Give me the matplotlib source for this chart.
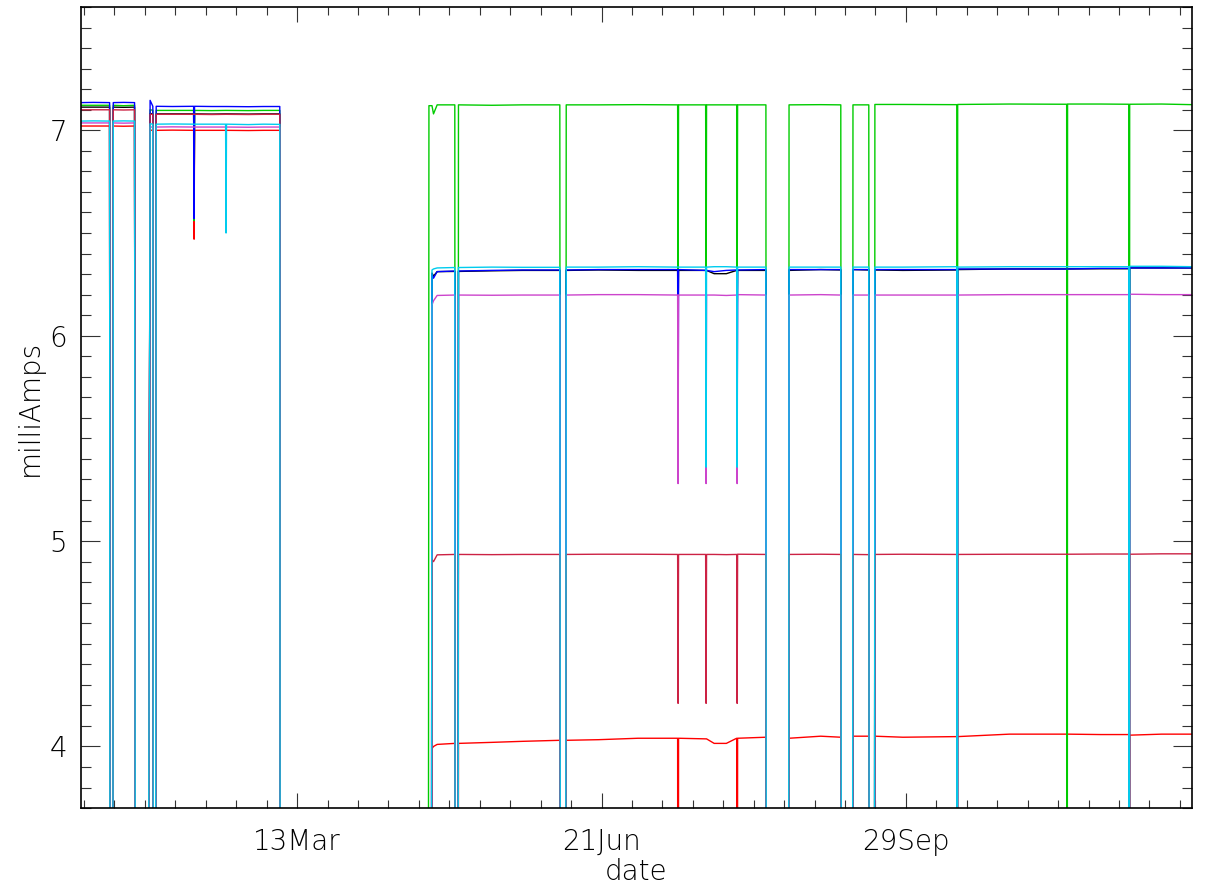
import numpy as np
import matplotlib
matplotlib.use("Agg")
import matplotlib.pyplot as plt
from matplotlib.ticker import MultipleLocator, FixedLocator, FixedFormatter

# day of year (0 = 1 Jan); a reading of 0 means no signal (drawn off the bottom)
day = [0.0, 4.0, 9.4, 9.6, 10.4, 10.6, 14.0, 17.6, 18.0, 21.8,
       22.7, 23.6, 23.8, 24.4, 24.7, 30.0, 37.0, 37.15, 37.3, 43.0,
       47.5, 47.65, 47.8, 55.0, 60.0, 65.3, 65.5,
       114.0, 114.3, 115.0, 115.3, 115.8, 117.0, 122.8, 123.0, 123.8,
       124.0, 135.0, 145.0, 157.3, 157.6, 159.1, 159.4, 170.0, 183.0, 196.0,
       196.15, 196.3, 205.2, 205.35, 205.5, 208.0, 212.0, 215.4, 215.55, 215.7,
       225.0, 225.2, 232.4, 232.6, 243.0, 249.6, 249.9, 253.4, 253.6, 258.8,
       259.0, 260.6, 260.8, 270.0, 287.7, 287.85, 288.0, 305.0, 323.8, 323.95,
       324.1, 335.0, 344.2, 344.35, 344.5, 355.0, 365.0]

green = [7.122, 7.122, 7.122, 0, 0, 7.122, 7.120, 7.122, 0, 0,
         7.100, 7.098, 0, 0, 7.097, 7.097, 7.097, 6.56, 7.097, 7.096,
         7.097, 7.097, 7.097, 7.096, 7.097, 7.097, 0,
         0, 7.12, 7.12, 7.12, 7.08, 7.124, 7.124, 0, 0,
         7.124, 7.122, 7.124, 7.124, 0, 0, 7.124, 7.124, 7.125, 7.124,
         6.06, 7.124, 7.124, 6.06, 7.124, 7.124, 7.124, 7.124, 6.06, 7.124,
         7.124, 0, 0, 7.124, 7.125, 7.124, 0, 0, 7.124, 7.124,
         0, 0, 7.126, 7.126, 7.125, 0, 7.126, 7.128, 7.127, 0,
         7.128, 7.128, 7.127, 0, 7.127, 7.128, 7.125]

blue = [7.135, 7.136, 7.135, 0, 0, 7.135, 7.136, 7.135, 0, 0,
        7.146, 7.117, 0, 0, 7.117, 7.116, 7.117, 6.57, 7.117, 7.116,
        7.116, 7.116, 7.116, 7.115, 7.116, 7.116, 0,
        0, 0, 0, 6.300, 6.280, 6.312, 6.315, 0, 0,
        6.315, 6.318, 6.320, 6.320, 0, 0, 6.320, 6.322, 6.322, 6.322,
        5.36, 6.322, 6.318, 6.30, 6.318, 6.312, 6.318, 6.320, 5.50, 6.320,
        6.322, 0, 0, 6.322, 6.322, 6.322, 0, 0, 6.322, 6.322,
        0, 0, 6.322, 6.322, 6.322, 0, 6.325, 6.325, 6.325, 6.325,
        6.325, 6.328, 6.328, 0, 6.330, 6.330, 6.330]

black = [7.113, 7.113, 7.113, 0, 0, 7.113, 7.112, 7.113, 0, 0,
         7.082, 7.080, 0, 0, 7.080, 7.080, 7.080, 6.56, 7.080, 7.079,
         7.080, 7.080, 7.080, 7.079, 7.080, 7.080, 0,
         0, 0, 0, 6.305, 6.290, 6.312, 6.313, 0, 0,
         6.313, 6.316, 6.318, 6.318, 0, 0, 6.318, 6.320, 6.318, 6.318,
         6.06, 6.318, 6.318, 6.30, 6.318, 6.302, 6.302, 6.318, 6.06, 6.318,
         6.318, 0, 0, 6.318, 6.322, 6.320, 0, 0, 6.322, 6.320,
         0, 0, 6.320, 6.318, 6.320, 0, 6.322, 6.325, 6.325, 6.325,
         6.325, 6.326, 6.326, 0, 6.330, 6.330, 6.330]

cyan = [7.045, 7.046, 7.045, 0, 0, 7.045, 7.046, 7.045, 0, 0,
        7.032, 7.030, 0, 0, 7.030, 7.031, 7.030, 7.030, 7.030, 7.030,
        7.030, 6.50, 7.030, 7.028, 7.030, 7.029, 0,
        0, 0, 0, 6.320, 6.325, 6.330, 6.332, 0, 0,
        6.332, 6.334, 6.333, 6.333, 0, 0, 6.334, 6.334, 6.336, 6.334,
        6.334, 6.334, 6.334, 5.36, 6.334, 6.336, 6.336, 6.334, 5.36, 6.334,
        6.334, 0, 0, 6.334, 6.334, 6.334, 0, 0, 6.334, 6.334,
        0, 0, 6.334, 6.334, 6.336, 0, 6.334, 6.336, 6.336, 6.336,
        6.336, 6.336, 6.336, 0, 6.338, 6.338, 6.336]

magenta = [7.036, 7.036, 7.036, 0, 0, 7.036, 7.035, 7.036, 0, 0,
           7.016, 7.016, 0, 0, 7.016, 7.017, 7.016, 7.016, 7.016, 7.016,
           7.016, 7.016, 7.016, 7.015, 7.016, 7.016, 0,
           0, 0, 0, 6.150, 6.170, 6.196, 6.198, 0, 0,
           6.198, 6.197, 6.198, 6.198, 0, 0, 6.198, 6.200, 6.200, 6.198,
           5.28, 6.198, 6.198, 5.28, 6.198, 6.198, 6.196, 6.198, 5.28, 6.200,
           6.198, 0, 0, 6.198, 6.200, 6.198, 0, 0, 6.198, 6.198,
           0, 0, 6.198, 6.198, 6.198, 0, 6.198, 6.200, 6.200, 6.200,
           6.200, 6.200, 6.200, 0, 6.202, 6.200, 6.200]

crimson = [7.100, 7.100, 7.100, 0, 0, 7.100, 7.099, 7.100, 0, 0,
           7.078, 7.078, 0, 0, 7.078, 7.078, 7.078, 7.078, 7.078, 7.077,
           7.078, 7.078, 7.078, 7.077, 7.078, 7.078, 0,
           0, 0, 0, 4.910, 4.900, 4.933, 4.935, 0, 0,
           4.935, 4.934, 4.935, 4.935, 0, 0, 4.935, 4.936, 4.936, 4.935,
           4.21, 4.935, 4.935, 4.21, 4.935, 4.935, 4.934, 4.935, 4.21, 4.936,
           4.935, 0, 0, 4.935, 4.936, 4.935, 0, 0, 4.935, 4.934,
           0, 0, 4.935, 4.936, 4.935, 0, 4.935, 4.936, 4.936, 4.936,
           4.936, 4.937, 4.937, 0, 4.936, 4.938, 4.938]

red = [7.021, 7.021, 7.021, 0, 0, 7.021, 7.020, 7.021, 0, 0,
       7.001, 7.000, 0, 0, 7.000, 7.001, 7.000, 6.47, 7.000, 7.000,
       7.000, 7.000, 7.000, 6.999, 7.000, 7.000, 0,
       0, 0, 0, 3.990, 4.000, 4.010, 4.015, 0, 0,
       4.015, 4.020, 4.025, 4.030, 0, 0, 4.030, 4.033, 4.040, 4.040,
       0, 4.040, 4.037, 4.037, 4.037, 4.015, 4.015, 4.040, 0, 4.040,
       4.045, 0, 0, 4.040, 4.050, 4.045, 0, 0, 4.050, 4.050,
       0, 0, 4.050, 4.045, 4.048, 4.048, 4.048, 4.060, 4.060, 4.060,
       4.060, 4.058, 4.058, 0, 4.055, 4.060, 4.060]

channels = [("black", black), ("#ff0000", red), ("#00cc00", green),
            ("#0000ff", blue), ("#cc44cc", magenta), ("#cc2244", crimson),
            ("#00ccee", cyan)]

tick_days = [71, 171, 271]
tick_names = ["13Mar", "21Jun", "29Sep"]

plt.rcParams["font.family"] = ["DejaVu Sans"]
plt.rcParams["font.weight"] = "light"
plt.rcParams["axes.labelweight"] = "light"

fig = plt.figure(figsize=(12.09, 8.88), dpi=100)
ax = fig.add_axes([0.067, 0.09, 0.919, 0.902])

for col, vals in channels:
    ax.plot(day, vals, color=col, lw=1.0)

ax.set_xlim(0, 365)
ax.set_ylim(3.7, 7.6)

ax.xaxis.set_major_locator(FixedLocator(tick_days))
ax.xaxis.set_major_formatter(FixedFormatter(tick_names))
ax.xaxis.set_minor_locator(MultipleLocator(10, offset=1))
ax.yaxis.set_major_locator(MultipleLocator(1))
ax.yaxis.set_minor_locator(MultipleLocator(0.1))

ax.tick_params(axis="both", which="both", direction="in", top=True, right=True,
               labelsize=20, width=0.8, color="#333333")
ax.tick_params(axis="x", which="major", length=11, pad=14)
ax.tick_params(axis="x", which="minor", length=5.5)
ax.tick_params(axis="y", which="major", length=13.5, pad=10)
ax.tick_params(axis="y", which="minor", length=7.5)
for s in ax.spines.values():
    s.set_linewidth(1.2)

ax.set_xlabel("date", fontsize=20, fontweight="light", labelpad=2)
ax.set_ylabel("milliAmps", fontsize=20, fontweight="light", labelpad=4)

fig.savefig("out.png", dpi=100)
